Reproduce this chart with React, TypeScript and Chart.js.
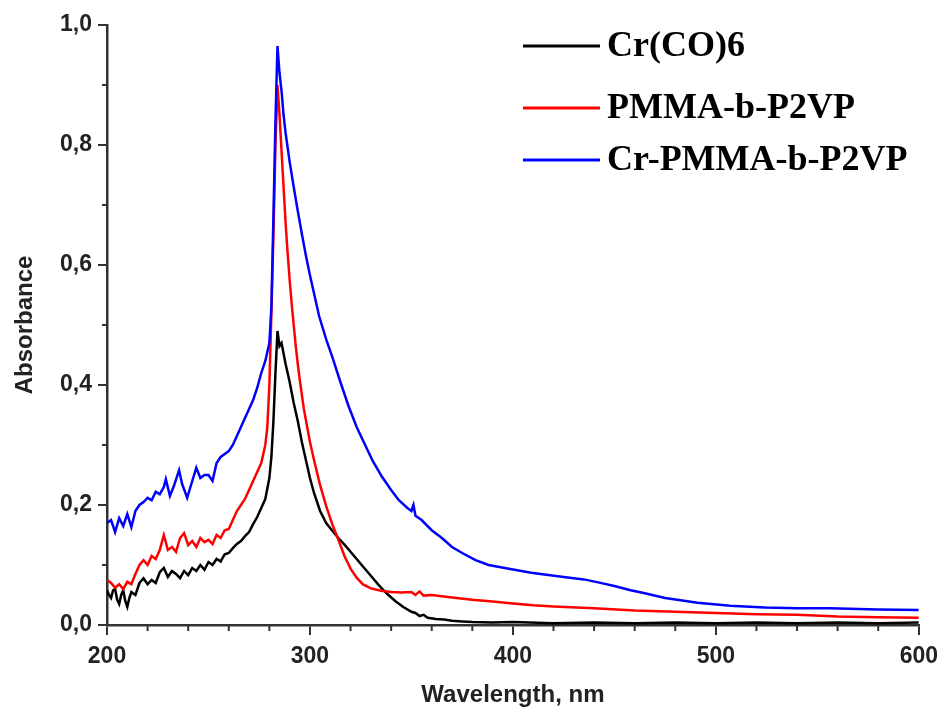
import React, { useEffect, useRef } from "react";
import { Chart, registerables } from "chart.js";

Chart.register(...registerables);

// ---- Data ----
const seriesLabels = ["Cr(CO)6", "PMMA-b-P2VP", "Cr-PMMA-b-P2VP"];
const seriesColors = ["#000000", "#ff0000", "#0000ff"];

const crCoWavelength = [
  200, 201, 202, 203, 204, 205, 206, 207, 208, 209, 210, 211, 212, 214, 216, 218, 220, 222, 224, 226, 228, 230, 232, 234, 236, 238,
  240, 242, 244, 246, 248, 250, 252, 254, 256, 258, 260, 262, 264, 266, 268, 270, 272, 274, 276, 278,
  280, 281, 282, 283, 284, 285, 286, 288, 290, 292, 294, 296, 298, 300, 302, 305, 308, 311, 314, 317,
  320, 323, 326, 330, 334, 338, 342, 346, 350, 352, 354, 356, 358, 362, 366, 370, 375, 380, 390, 400, 420, 440,
  460, 480, 500, 520, 540, 560, 580, 600,
];
const crCoAbs = [
  0.058, 0.05, 0.045, 0.058, 0.06, 0.042, 0.035, 0.05, 0.058, 0.04, 0.03, 0.045, 0.055, 0.05, 0.07, 0.078, 0.068, 0.075, 0.07, 0.088, 0.095, 0.08, 0.09, 0.085, 0.078, 0.09,
  0.083, 0.095, 0.09, 0.1, 0.092, 0.105, 0.1, 0.11, 0.106, 0.118, 0.12, 0.128, 0.135, 0.14, 0.148, 0.155, 0.168, 0.18, 0.195, 0.21,
  0.245, 0.28, 0.34, 0.42, 0.49, 0.465, 0.47, 0.435, 0.405, 0.37, 0.34, 0.305, 0.275, 0.245, 0.22, 0.19, 0.17, 0.157, 0.145, 0.134,
  0.122, 0.11, 0.098, 0.082, 0.066, 0.052, 0.04, 0.03, 0.022, 0.02, 0.015, 0.017, 0.012, 0.01, 0.009, 0.007, 0.006, 0.005, 0.004, 0.005, 0.003, 0.004,
  0.003, 0.004, 0.003, 0.004, 0.003, 0.004, 0.003, 0.004,
];

const pmmaWavelength = [
  200, 202, 204, 206, 208, 210, 212, 214, 216, 218, 220, 222, 224, 226, 228, 230, 232, 234, 236, 238,
  240, 242, 244, 246, 248, 250, 252, 254, 256, 258, 260, 262, 264, 266, 268, 270, 272, 274, 276, 278,
  279, 280, 281, 282, 283, 284, 285, 286, 287, 288, 289, 290, 291, 292, 293, 294, 295, 297, 300, 302,
  305, 308, 311, 314, 317, 320, 323, 326, 330, 335, 340, 345, 350, 352, 354, 356, 360, 370, 380, 390,
  400, 410, 420, 440, 460, 480, 500, 520, 540, 560, 580, 600,
];
const pmmaAbs = [
  0.075, 0.07, 0.062, 0.068, 0.06, 0.072, 0.068, 0.085, 0.1, 0.108, 0.1, 0.115, 0.11, 0.125, 0.15, 0.125, 0.13, 0.122, 0.145, 0.153,
  0.133, 0.14, 0.13, 0.145, 0.138, 0.142, 0.135, 0.15, 0.145, 0.158, 0.16, 0.175, 0.19, 0.2, 0.21, 0.225, 0.24, 0.255, 0.27, 0.3,
  0.33, 0.4, 0.52, 0.65, 0.8, 0.9, 0.85, 0.79, 0.73, 0.67, 0.62, 0.575, 0.535, 0.5, 0.465, 0.435, 0.408, 0.36, 0.305, 0.275,
  0.233, 0.198, 0.168, 0.142, 0.115, 0.094, 0.079, 0.068, 0.061, 0.057, 0.055, 0.054, 0.055, 0.05, 0.056, 0.049, 0.05, 0.046, 0.042, 0.039,
  0.036, 0.033, 0.031, 0.028, 0.024, 0.022, 0.02, 0.018, 0.017, 0.014, 0.013, 0.012,
];

const crPmmaWavelength = [
  200, 202, 204, 206, 208, 210, 212, 214, 216, 218, 220, 222, 224, 226, 228, 229, 231, 233, 235.5, 237,
  239.5, 242, 244, 246, 248, 250, 252, 254, 256, 258, 260, 262, 264, 266, 268, 270, 272, 274, 276, 278,
  280, 281, 282, 283, 284, 285, 286, 287, 288, 290, 292, 294, 296, 298, 300, 302, 304.5, 308, 311, 315, 319, 323,
  327.6, 331, 335.5, 340, 343.8, 348, 350, 351, 352, 355, 360, 365, 370, 375, 381.6, 388, 396, 409, 425, 435,
  442, 450, 458, 465, 475, 491, 507, 524, 540, 556, 580, 600,
];
const crPmmaAbs = [
  0.17, 0.175, 0.155, 0.178, 0.165, 0.185, 0.163, 0.19, 0.2, 0.205, 0.212, 0.208, 0.222, 0.218, 0.23, 0.243, 0.215, 0.232, 0.258, 0.235,
  0.212, 0.24, 0.262, 0.245, 0.25, 0.25, 0.24, 0.27, 0.28, 0.285, 0.29, 0.3, 0.315, 0.33, 0.345, 0.36, 0.375, 0.395, 0.42, 0.44,
  0.47, 0.53, 0.68, 0.84, 0.965, 0.92, 0.89, 0.85, 0.82, 0.772, 0.73, 0.69, 0.652, 0.616, 0.583, 0.553, 0.515, 0.476, 0.447, 0.405, 0.365, 0.33,
  0.297, 0.273, 0.247, 0.225, 0.208, 0.195, 0.19, 0.2, 0.182, 0.175, 0.158, 0.145, 0.13, 0.12, 0.108, 0.1, 0.095, 0.087, 0.08, 0.076,
  0.071, 0.065, 0.058, 0.053, 0.045, 0.037, 0.032, 0.029, 0.028, 0.028, 0.026, 0.025,
];

const xMajorTicks = [200, 300, 400, 500, 600];
const xMinorTicks = [220, 240, 260, 280, 320, 340, 360, 380, 420, 440, 460, 480, 520, 540, 560, 580];
const yMajorTicks = [0, 0.2, 0.4, 0.6, 0.8, 1.0];
const yMinorTicks = [0.1, 0.3, 0.5, 0.7, 0.9];

const xTitle = "Wavelength, nm";
const yTitle = "Absorbance";

const toPoints = (xs: number[], ys: number[]) => xs.map((x, i) => ({ x, y: ys[i] }));

const AXIS_COLOR = "#333333";
const SANS = "'Liberation Sans', Arial, sans-serif";
const SERIF = "'Liberation Serif', 'Times New Roman', serif";

const minorTicksPlugin = {
  id: "minorTicks",
  afterDraw(chart: any) {
    const { ctx, chartArea, scales } = chart;
    ctx.save();
    ctx.strokeStyle = AXIS_COLOR;
    ctx.lineWidth = 2;
    xMinorTicks.forEach((v) => {
      const px = scales.x.getPixelForValue(v);
      ctx.beginPath();
      ctx.moveTo(px, chartArea.bottom);
      ctx.lineTo(px, chartArea.bottom + 6);
      ctx.stroke();
    });
    yMinorTicks.forEach((v) => {
      const py = scales.y.getPixelForValue(v);
      ctx.beginPath();
      ctx.moveTo(chartArea.left - 5, py);
      ctx.lineTo(chartArea.left, py);
      ctx.stroke();
    });
    ctx.restore();
  },
};

const innerLegendPlugin = {
  id: "innerLegend",
  afterDraw(chart: any) {
    const { ctx, chartArea } = chart;
    const x0 = chartArea.left + 416;
    const lineLen = 77;
    const rows = [chartArea.top + 21, chartArea.top + 83, chartArea.top + 135];
    ctx.save();
    ctx.font = `bold 36px ${SERIF}`;
    ctx.textBaseline = "middle";
    ctx.textAlign = "left";
    chart.data.datasets.forEach((ds: any, i: number) => {
      const y = rows[i];
      ctx.strokeStyle = ds.borderColor;
      ctx.lineWidth = 3;
      ctx.beginPath();
      ctx.moveTo(x0, y);
      ctx.lineTo(x0 + lineLen, y);
      ctx.stroke();
      ctx.fillStyle = "#000000";
      ctx.fillText(ds.label, x0 + lineLen + 7, y + 1);
    });
    ctx.restore();
  },
};

export default function App() {
  const canvasRef = useRef<HTMLCanvasElement | null>(null);

  useEffect(() => {
    if (!canvasRef.current) return;
    const chart = new Chart(canvasRef.current, {
      type: "line",
      data: {
        datasets: [
          {
            label: seriesLabels[0],
            data: toPoints(crCoWavelength, crCoAbs),
            borderColor: seriesColors[0],
            backgroundColor: seriesColors[0],
            borderWidth: 2.5,
            pointRadius: 0,
            tension: 0,
            order: 2,
          },
          {
            label: seriesLabels[1],
            data: toPoints(pmmaWavelength, pmmaAbs),
            borderColor: seriesColors[1],
            backgroundColor: seriesColors[1],
            borderWidth: 2.5,
            pointRadius: 0,
            tension: 0,
            order: 1,
          },
          {
            label: seriesLabels[2],
            data: toPoints(crPmmaWavelength, crPmmaAbs),
            borderColor: seriesColors[2],
            backgroundColor: seriesColors[2],
            borderWidth: 2.5,
            pointRadius: 0,
            tension: 0,
            order: 0,
          },
        ],
      },
      options: {
        responsive: false,
        animation: false,
        layout: { padding: { top: 25, right: 24, left: 0, bottom: 0 } },
        plugins: {
          legend: { display: false },
          tooltip: { enabled: false },
        },
        scales: {
          x: {
            type: "linear",
            min: 200,
            max: 600,
            afterBuildTicks: (scale: any) => {
              scale.ticks = xMajorTicks.map((v) => ({ value: v }));
            },
            afterFit: (scale: any) => {
              scale.height = 83;
            },
            ticks: {
              padding: 8,
              color: "#222222",
              font: { family: SANS, size: 23, weight: "bold" },
              maxRotation: 0,
              callback: (v: any) => String(v),
            },
            grid: {
              display: true,
              drawOnChartArea: false,
              drawTicks: true,
              tickLength: 10,
              color: AXIS_COLOR,
              lineWidth: 2,
            },
            border: { display: true, color: AXIS_COLOR, width: 2.5 },
            title: {
              display: true,
              text: xTitle,
              color: "#222222",
              align: "center",
              font: { family: SANS, size: 24, weight: "bold", lineHeight: 1 },
              padding: { top: 0, bottom: 1 },
            },
          },
          y: {
            type: "linear",
            min: 0,
            max: 1,
            afterBuildTicks: (scale: any) => {
              scale.ticks = yMajorTicks.map((v) => ({ value: v }));
            },
            afterFit: (scale: any) => {
              scale.width = 107;
            },
            ticks: {
              padding: 6,
              color: "#222222",
              font: { family: SANS, size: 23, weight: "bold" },
              callback: (v: any) => Number(v).toFixed(1).replace(".", ","),
            },
            grid: {
              display: true,
              drawOnChartArea: false,
              drawTicks: true,
              tickLength: 9,
              color: AXIS_COLOR,
              lineWidth: 2,
            },
            border: { display: true, color: AXIS_COLOR, width: 2.5 },
            title: {
              display: true,
              text: yTitle,
              color: "#222222",
              font: { family: SANS, size: 24, weight: "bold", lineHeight: 1 },
              padding: { top: 13, bottom: 0 },
            },
          },
        },
      },
      plugins: [minorTicksPlugin, innerLegendPlugin],
    } as any);
    return () => chart.destroy();
  }, []);

  return (
    <div style={{ position: "absolute", left: 0, top: 0, width: 946, height: 708, background: "#ffffff" }}>
      <canvas ref={canvasRef} width={946} height={708} />
    </div>
  );
}
